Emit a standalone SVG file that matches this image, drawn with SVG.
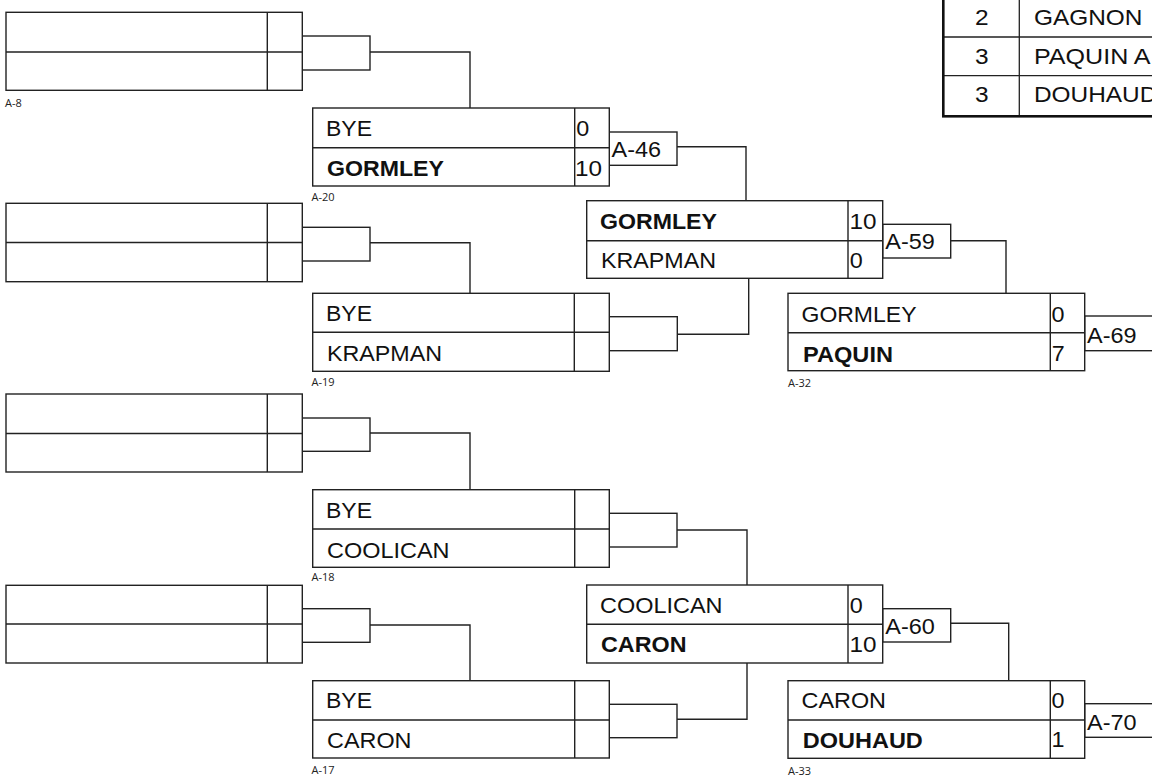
<svg xmlns="http://www.w3.org/2000/svg" width="1152" height="783" viewBox="0 0 1152 783">
<style>
.bx{fill:#fff;stroke:#222;stroke-width:1.4}
.ln{fill:none;stroke:#222;stroke-width:1.4}
.t{font-family:"Liberation Sans",Arial,sans-serif;font-size:21.5px;fill:#111}
.b{font-weight:bold}
.lbl{font-family:"Open Sans","Noto Sans",sans-serif;font-size:11px;fill:#222}
.tb{fill:none;stroke:#111;stroke-width:2.6}
.tl{fill:none;stroke:#222;stroke-width:1.3}
</style>
<rect width="1152" height="783" fill="#fff"/>

<g id="connectors">
  <rect class="ln" x="302.3" y="36" width="67.7" height="34"/>
  <rect class="ln" x="302.3" y="227.3" width="67.7" height="33.7"/>
  <rect class="ln" x="302.3" y="418" width="67.7" height="33.3"/>
  <rect class="ln" x="302.3" y="608.7" width="67.7" height="33.6"/>
  <path class="ln" d="M370 52 H470 V108"/>
  <path class="ln" d="M370 242.7 H470 V293.3"/>
  <path class="ln" d="M370 433 H470 V489.7"/>
  <path class="ln" d="M370 625 H470 V680.7"/>

  <rect class="ln" x="609.3" y="132" width="67.7" height="33.3"/>
  <rect class="ln" x="609.3" y="316.7" width="68" height="34"/>
  <rect class="ln" x="609.3" y="513.3" width="67.7" height="33.7"/>
  <rect class="ln" x="609.3" y="704.3" width="67.7" height="33.4"/>
  <path class="ln" d="M677 146.7 H746 V200.7"/>
  <path class="ln" d="M677.3 334.3 H748.7 V278.3"/>
  <path class="ln" d="M677 530 H747 V585"/>
  <path class="ln" d="M677 719.3 H747 V663"/>
  <text class="t" x="611.5" y="157" textLength="49.5" lengthAdjust="spacingAndGlyphs">A-46</text>

  <rect class="ln" x="882.7" y="224.3" width="68" height="33.7"/>
  <rect class="ln" x="882.7" y="608.7" width="68" height="33.3"/>
  <path class="ln" d="M950.7 240.7 H1006 V293.3"/>
  <path class="ln" d="M950.7 623.3 H1008.7 V680.7"/>
  <text class="t" x="885.3" y="249.3" textLength="49.5" lengthAdjust="spacingAndGlyphs">A-59</text>
  <text class="t" x="885.3" y="634" textLength="49.5" lengthAdjust="spacingAndGlyphs">A-60</text>

  <rect class="ln" x="1084.7" y="316" width="70" height="34.7"/>
  <rect class="ln" x="1084.7" y="703.7" width="70" height="33.6"/>
  <text class="t" x="1087" y="343.3" textLength="49.5" lengthAdjust="spacingAndGlyphs">A-69</text>
  <text class="t" x="1087" y="730" textLength="49.5" lengthAdjust="spacingAndGlyphs">A-70</text>
</g>

<g id="A-8">
  <rect class="bx" x="6" y="12.3" width="296.3" height="78"/>
  <path class="ln" d="M6 52 H302.3 M267.3 12.3 V90.3"/>
  <text class="lbl" x="5" y="107">A-8</text>
</g>
<g id="r1-box2">
  <rect class="bx" x="6" y="203.3" width="296.3" height="78.4"/>
  <path class="ln" d="M6 242.5 H302.3 M267.3 203.3 V281.7"/>
</g>
<g id="r1-box3">
  <rect class="bx" x="6" y="394" width="296.3" height="78"/>
  <path class="ln" d="M6 433.5 H302.3 M267.3 394 V472"/>
</g>
<g id="r1-box4">
  <rect class="bx" x="6" y="585.3" width="296.3" height="77.7"/>
  <path class="ln" d="M6 624 H302.3 M267.3 585.3 V663"/>
</g>

<g id="A-20">
  <rect class="bx" x="312.7" y="108" width="296.6" height="78"/>
  <path class="ln" d="M312.7 147.7 H609.3 M574.7 108 V186"/>
  <text class="t" x="326" y="135.5" textLength="46" lengthAdjust="spacingAndGlyphs">BYE</text>
  <text class="t b" x="327" y="175.5" textLength="117" lengthAdjust="spacingAndGlyphs">GORMLEY</text>
  <text class="t" x="576.3" y="135.5" textLength="13" lengthAdjust="spacingAndGlyphs">0</text>
  <text class="t" x="575" y="175.5" textLength="27" lengthAdjust="spacingAndGlyphs">10</text>
  <text class="lbl" x="311.5" y="200.5">A-20</text>
</g>
<g id="A-19">
  <rect class="bx" x="312.7" y="293.3" width="296.6" height="78"/>
  <path class="ln" d="M312.7 332.3 H609.3 M574.3 293.3 V371.3"/>
  <text class="t" x="326" y="320.8" textLength="46" lengthAdjust="spacingAndGlyphs">BYE</text>
  <text class="t" x="327" y="360.8" textLength="115" lengthAdjust="spacingAndGlyphs">KRAPMAN</text>
  <text class="lbl" x="311.5" y="385.5">A-19</text>
</g>
<g id="A-18">
  <rect class="bx" x="312.7" y="489.7" width="296.6" height="77.6"/>
  <path class="ln" d="M312.7 529 H609.3 M574.7 489.7 V567.3"/>
  <text class="t" x="326" y="517.7" textLength="46" lengthAdjust="spacingAndGlyphs">BYE</text>
  <text class="t" x="327" y="557.7" textLength="122.5" lengthAdjust="spacingAndGlyphs">COOLICAN</text>
  <text class="lbl" x="311.5" y="581">A-18</text>
</g>
<g id="A-17">
  <rect class="bx" x="312.7" y="680.7" width="296.6" height="77.3"/>
  <path class="ln" d="M312.7 720 H609.3 M574.7 680.7 V758"/>
  <text class="t" x="326" y="708" textLength="46" lengthAdjust="spacingAndGlyphs">BYE</text>
  <text class="t" x="327" y="748" textLength="84.5" lengthAdjust="spacingAndGlyphs">CARON</text>
  <text class="lbl" x="311.5" y="774">A-17</text>
</g>

<g id="r3-top">
  <rect class="bx" x="586.7" y="200.7" width="296" height="77.6"/>
  <path class="ln" d="M586.7 240.7 H882.7 M848 200.7 V278.3"/>
  <text class="t b" x="600" y="229.3" textLength="117" lengthAdjust="spacingAndGlyphs">GORMLEY</text>
  <text class="t" x="601" y="267.7" textLength="115" lengthAdjust="spacingAndGlyphs">KRAPMAN</text>
  <text class="t" x="849.5" y="229.3" textLength="27" lengthAdjust="spacingAndGlyphs">10</text>
  <text class="t" x="849.8" y="267.7" textLength="13" lengthAdjust="spacingAndGlyphs">0</text>
</g>
<g id="r3-bottom">
  <rect class="bx" x="586.7" y="585" width="296" height="78"/>
  <path class="ln" d="M586.7 624.3 H882.7 M848 585 V663"/>
  <text class="t" x="600" y="612.7" textLength="122.5" lengthAdjust="spacingAndGlyphs">COOLICAN</text>
  <text class="t b" x="601" y="652" textLength="85.5" lengthAdjust="spacingAndGlyphs">CARON</text>
  <text class="t" x="849.8" y="612.7" textLength="13" lengthAdjust="spacingAndGlyphs">0</text>
  <text class="t" x="849.5" y="652" textLength="27" lengthAdjust="spacingAndGlyphs">10</text>
</g>

<g id="A-32">
  <rect class="bx" x="788" y="293.3" width="296.7" height="77.4"/>
  <path class="ln" d="M788 332.7 H1084.7 M1050.3 293.3 V370.7"/>
  <text class="t" x="801.5" y="321.7" textLength="115" lengthAdjust="spacingAndGlyphs">GORMLEY</text>
  <text class="t b" x="803" y="361.7" textLength="90" lengthAdjust="spacingAndGlyphs">PAQUIN</text>
  <text class="t" x="1051.5" y="321.7" textLength="13" lengthAdjust="spacingAndGlyphs">0</text>
  <text class="t" x="1051.8" y="360.5" textLength="13" lengthAdjust="spacingAndGlyphs">7</text>
  <text class="lbl" x="788" y="387.3">A-32</text>
</g>
<g id="A-33">
  <rect class="bx" x="788" y="680.7" width="296.7" height="77.6"/>
  <path class="ln" d="M788 720 H1084.7 M1050.3 680.7 V758.3"/>
  <text class="t" x="801.5" y="707.7" textLength="84.5" lengthAdjust="spacingAndGlyphs">CARON</text>
  <text class="t b" x="802.8" y="748.3" textLength="120" lengthAdjust="spacingAndGlyphs">DOUHAUD</text>
  <text class="t" x="1051.5" y="707.7" textLength="13" lengthAdjust="spacingAndGlyphs">0</text>
  <text class="t" x="1051.5" y="747" textLength="13" lengthAdjust="spacingAndGlyphs">1</text>
  <text class="lbl" x="788" y="775">A-33</text>
</g>

<g id="standings">
  <rect fill="#fff" x="943.3" y="-4" width="212" height="120.3"/>
  <path class="tl" d="M1019.3 -4 V116.3 M943.3 37 H1155 M943.3 75.7 H1155"/>
  <rect class="tb" x="943.3" y="-4" width="212" height="120.3"/>
  <text class="t" x="981.7" y="25" text-anchor="middle" font-size="21" textLength="13.6" lengthAdjust="spacingAndGlyphs">2</text>
  <text class="t" x="981.7" y="63.5" text-anchor="middle" font-size="21" textLength="13.6" lengthAdjust="spacingAndGlyphs">3</text>
  <text class="t" x="981.7" y="102" text-anchor="middle" font-size="21" textLength="13.6" lengthAdjust="spacingAndGlyphs">3</text>
  <text class="t" x="1034" y="25" font-size="21" textLength="108.5" lengthAdjust="spacingAndGlyphs">GAGNON</text>
  <text class="t" x="1034" y="63.5" font-size="21" textLength="116.6" lengthAdjust="spacingAndGlyphs">PAQUIN A</text>
  <text class="t" x="1034" y="102" font-size="21" textLength="123.3" lengthAdjust="spacingAndGlyphs">DOUHAUD</text>
</g>
</svg>
